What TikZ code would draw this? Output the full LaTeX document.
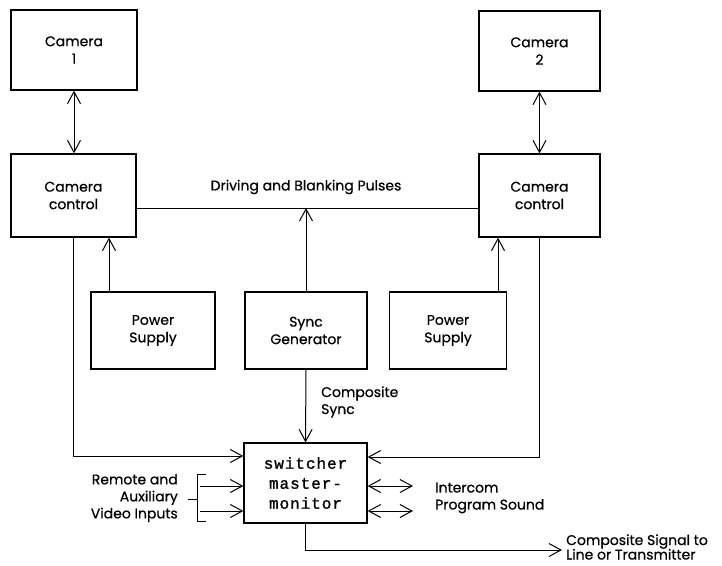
\documentclass[tikz,border=0pt]{standalone}
\usepackage{fontspec}
\setmainfont{Poppins}[FakeBold=0.6]
\newfontfamily\swfont[LetterSpace=6,FakeBold=1.2]{Liberation Mono}
\usetikzlibrary{arrows.meta}
\tikzset{
  box/.style={draw, line width=1.3pt, align=center, inner sep=0pt, font=\fontsize{14}{17.5}\selectfont},
  conn/.style={line width=1pt},
  tip/.style={-{Straight Barb[length=12pt,width=13pt,line width=1pt]}},
  tipb/.style={{Straight Barb[length=12pt,width=13pt,line width=1pt]}-{Straight Barb[length=12pt,width=13pt,line width=1pt]}},
  lbl/.style={font=\fontsize{14}{17}\selectfont, inner sep=0pt}
}
\begin{document}
\begin{tikzpicture}[x=1pt,y=-1pt]
\useasboundingbox (0,0) rectangle (722,565);
\fill[white] (0,0) rectangle (722,565);
% boxes
\node[box, minimum width=126pt, minimum height=80pt] (cam1) at (74,50) {Camera\\1};
\node[box, minimum width=125pt, minimum height=83pt] (ctrl1) at (73.5,195.5) {Camera\\control};
\node[box, minimum width=121pt, minimum height=80pt] (cam2) at (539.5,51) {Camera\\2};
\node[box, minimum width=121pt, minimum height=83pt] (ctrl2) at (539.5,195.5) {Camera\\control};
\node[box, minimum width=124pt, minimum height=77pt] (pwr1) at (153,330.5) {Power\\Supply};
\node[box, minimum width=122pt, minimum height=77pt] (sync) at (306,330.5) {Sync\\Generator};
\node[box, minimum width=117pt, minimum height=77pt] (pwr2) at (448,330.5) {Power\\Supply};
\node[box, minimum width=123pt, minimum height=80pt, font=\swfont\fontsize{16}{20}\selectfont] (sw) at (305.5,483) {switcher\\master-\\monitor};
% coordinates
\coordinate (busL) at ([yshift=-12.5pt]ctrl1.east);
\coordinate (busR) at (ctrl2.west |- busL);
\coordinate (busM) at (sync.north |- busL);
\coordinate (in1) at (200,486);
\coordinate (in2) at (200,511);
\coordinate (o1) at (413,486);
\coordinate (o2) at (413,511);
\coordinate (oute) at (562,550);
% connectors
\draw[conn,tipb] (cam1.south) -- (cam1.south |- ctrl1.north);
\draw[conn,tipb] (cam2.south) -- (cam2.south |- ctrl2.north);
\draw[conn] (busL) -- (busR);
\draw[conn,tip] (sync.north) -- (busM);
\draw[conn,tip] ([xshift=-44pt]pwr1.north) -- ([xshift=-44pt]pwr1.north |- ctrl1.south);
\draw[conn,tip] ([xshift=50pt]pwr2.north) -- ([xshift=50pt]pwr2.north |- ctrl2.south);
\draw[conn,tip] (ctrl1.south) |- ([yshift=27pt]sw.west);
\draw[conn,tip] (ctrl2.south) |- ([yshift=26pt]sw.east);
\draw[conn,tip] (sync.south) -- (sw.north);
\draw[conn,tip] (in1) -- (in1 -| sw.west);
\draw[conn,tip] (in2) -- (in2 -| sw.west);
\draw[conn,tipb] (o1 -| sw.east) -- (o1);
\draw[conn,tipb] (o2 -| sw.east) -- (o2);
\draw[conn,tip] (sw.south) |- (oute);
% bracket
\draw[conn] (206,474) -- (197,474) -- (197,521) -- (206,521);
\draw[conn] (188,499) -- (197,499);
% labels
\node[lbl] (lDrive) at (306,187) {Driving and Blanking Pulses};
\node[lbl, anchor=west, align=left] (lCS) at (321,402) {Composite\\Sync};
\node[lbl, anchor=east, align=right] (lRem) at (178,498) {Remote and\\Auxiliary\\Video Inputs};
\node[lbl, anchor=west, align=left] (lInt) at (435,498) {Intercom\\Program Sound};
\node[lbl, anchor=west, align=left, font=\fontsize{14}{14.5}\selectfont] (lOut) at (566,547) {Composite Signal to\\Line or Transmitter};
\end{tikzpicture}
\end{document}
